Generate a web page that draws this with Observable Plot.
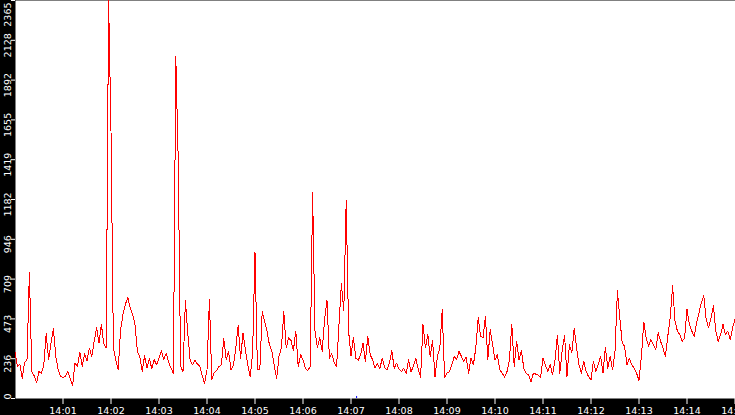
<!DOCTYPE html>
<html>
<head>
<meta charset="utf-8">
<script src="https://cdn.jsdelivr.net/npm/d3@7"></script>
<script src="https://cdn.jsdelivr.net/npm/@observablehq/plot@0.6"></script>
<style>
  html, body { margin: 0; padding: 0; background: black; overflow: hidden; }
  #chart { width: 735px; height: 415px; }
</style>
</head>
<body>
<div id="chart"></div>
<script>
// Sample series: one value every 3 seconds from 14:00:00 to 14:15:00
const startTime = "14:00:00";
const stepSeconds = 3;
const values = [
  // 14:00
  275,190,205,120,215,230,750,160,135,95,160,150,200,385,230,330,415,250,170,130,
  // 14:01
  125,130,160,120,78,210,190,275,190,265,225,300,250,340,420,330,440,325,300,2365,
  // 14:02
  1590,300,230,170,410,500,560,600,540,500,440,280,250,160,255,180,240,175,230,200,
  // 14:03
  240,285,230,270,215,180,150,2030,1425,190,160,580,385,225,200,226,205,190,135,90,
  // 14:04
  170,590,110,155,165,190,200,355,230,280,170,195,300,435,235,390,290,200,127,270,
  // 14:05
  870,175,170,515,460,400,320,285,200,117,250,300,515,300,360,345,285,400,190,260,
  // 14:06
  230,180,165,190,1224,400,300,360,280,470,582,240,265,215,190,440,683,520,1176,400,
  // 14:07
  250,364,240,226,260,330,220,370,260,230,180,210,175,240,185,170,210,285,180,210,
  // 14:08
  175,160,180,150,230,160,190,240,175,127,440,300,380,250,345,127,250,300,528,127,
  // 14:09
  150,160,200,250,230,280,250,220,245,150,240,200,300,480,370,360,490,230,410,320,
  // 14:10
  230,260,170,150,127,160,226,440,190,340,230,285,180,150,140,100,150,145,140,125,
  // 14:11
  240,200,160,200,140,226,375,150,285,375,130,320,270,415,300,200,150,220,160,130,
  // 14:12
  110,220,160,200,250,150,305,180,250,170,280,640,480,330,310,200,240,200,180,150,
  // 14:13
  107,250,455,360,310,350,320,290,390,340,300,250,370,480,670,460,400,380,340,360,
  // 14:14
  530,440,400,370,450,510,570,612,470,420,480,550,400,340,380,440,380,400,350,420,
  // 14:15
  470
];
const yMax = 2365;
const yTicks = [0, 236.5, 473, 709.5, 946, 1182.5, 1419, 1655.5, 1892, 2128.5, 2365];
const yTickLabels = ["0","236","473","709","946","1182","1419","1655","1892","2128","2365"];
const xTickLabels = ["14:01","14:02","14:03","14:04","14:05","14:06","14:07","14:08","14:09","14:10","14:11","14:12","14:13","14:14","14:15"];
const xDomain = ["14:00:00", "14:15:00"];
const blueMarks = ["14:07:07"];

const toDate = s => {
  const [h, m, sec] = s.split(":").map(Number);
  return new Date(Date.UTC(2000, 0, 1, h, m, sec || 0));
};
const t0 = toDate(startTime);
const data = values.map((v, i) => ({t: new Date(+t0 + i * stepSeconds * 1000), v}));
const xTicks = xTickLabels.map(toDate);
const yLabelData = yTicks.map((y, i) => ({y, label: yTickLabels[i], i}));
const midLabels = yLabelData.filter(d => d.i > 0 && d.i < yTicks.length - 1);
const topLabel = yLabelData.filter(d => d.i === yTicks.length - 1);
const bottomLabel = yLabelData.filter(d => d.i === 0);
const fmt = d3.utcFormat("%H:%M");

const labelStyle = {fill: "white", rotate: -90, frameAnchor: "left", dx: -5, lineAnchor: "bottom", fontSize: 9.5};

const chart = Plot.plot({
  width: 735,
  height: 415,
  marginLeft: 15,
  marginRight: 0,
  marginTop: 0,
  marginBottom: 17,
  style: {background: "black", fontFamily: "DejaVu Sans", fontSize: "9.5px", color: "white"},
  x: {type: "utc", domain: xDomain.map(toDate), range: [14.5, 734.5]},
  y: {domain: [0, yMax], range: [398, 0]},
  marks: [
    Plot.frame({fill: "white", stroke: null}),
    Plot.lineY(data, {x: "t", y: "v", stroke: "#ff0000", strokeWidth: 1, shapeRendering: "crispEdges"}),
    Plot.ruleX(blueMarks.map(toDate), {y1: 0, y2: 12, stroke: "blue", strokeWidth: 1}),
    Plot.axisX({ticks: xTicks, tickFormat: fmt, tickSize: 6, tickPadding: 3, color: "white", label: null, fontSize: 9.5}),
    Plot.axisY({ticks: yTicks, tickSize: 4, tickFormat: () => "", color: "white", label: null}),
    Plot.text(midLabels, {...labelStyle, y: "y", text: "label", textAnchor: "middle", dy: 5}),
    Plot.text(topLabel, {...labelStyle, y: "y", text: "label", textAnchor: "end", dy: 2}),
    Plot.text(bottomLabel, {...labelStyle, y: "y", text: "label", textAnchor: "start", dy: 1})
  ]
});
document.getElementById("chart").append(chart);
</script>
</body>
</html>
